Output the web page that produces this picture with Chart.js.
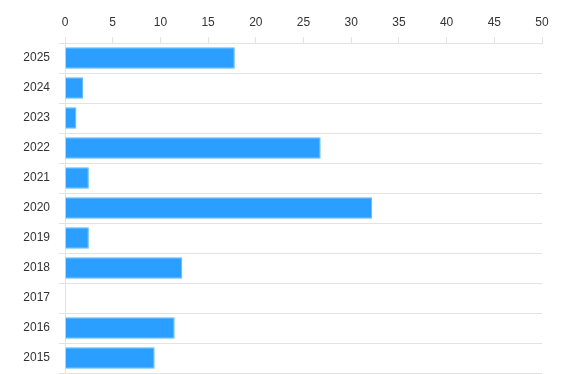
<!DOCTYPE html>
<html>
<head>
<meta charset="utf-8">
<script src="https://cdn.jsdelivr.net/npm/chart.js@4/dist/chart.umd.min.js"></script>
<style>
  html, body { margin: 0; padding: 0; background: #ffffff; }
  #wrap { width: 566px; height: 374px; }
</style>
</head>
<body>
<div id="wrap"><canvas id="yearChart" width="566" height="374"></canvas></div>
<script>
const years = ['2025', '2024', '2023', '2022', '2021', '2020', '2019', '2018', '2017', '2016', '2015'];
const counts = [17.8, 1.9, 1.2, 26.8, 2.5, 32.2, 2.5, 12.3, 0, 11.5, 9.4];
const xTicks = [0, 5, 10, 15, 20, 25, 30, 35, 40, 45, 50];

const gridColor = '#e3e3e3';
const labelFont = { family: 'Liberation Sans, Arial, sans-serif', size: 12 };

const yearChart = new Chart(document.getElementById('yearChart'), {
  type: 'bar',
  data: {
    labels: years,
    datasets: [{
      data: counts,
      backgroundColor: '#2a9fff',
      borderColor: '#5fb7ff',
      borderWidth: 1,
      borderSkipped: 'start',
    }],
  },
  options: {
    indexAxis: 'y',
    responsive: false,
    animation: false,
    layout: { padding: { left: 0, right: 24, top: 0, bottom: 1 } },
    plugins: {
      legend: { display: false },
      tooltip: { enabled: false },
    },
    scales: {
      x: {
        position: 'top',
        min: xTicks[0],
        max: xTicks[xTicks.length - 1],
        afterBuildTicks: (scale) => { scale.ticks = xTicks.map((v) => ({ value: v })); },
        afterFit: (scale) => {
          scale.height = 43;
          scale.paddingLeft = 0;
          scale.paddingRight = 0;
        },
        grid: { drawOnChartArea: false, color: gridColor, tickLength: 6 },
        border: { color: gridColor },
        ticks: { color: '#333333', font: labelFont, padding: 7, maxRotation: 0 },
      },
      y: {
        afterFit: (scale) => {
          scale.width = 65;
          scale.paddingTop = 0;
          scale.paddingBottom = 0;
        },
        grid: { color: gridColor, tickLength: 6, offset: true },
        border: { color: gridColor },
        ticks: { color: '#333333', font: labelFont, padding: 9 },
      },
    },
  },
});
</script>
</body>
</html>
